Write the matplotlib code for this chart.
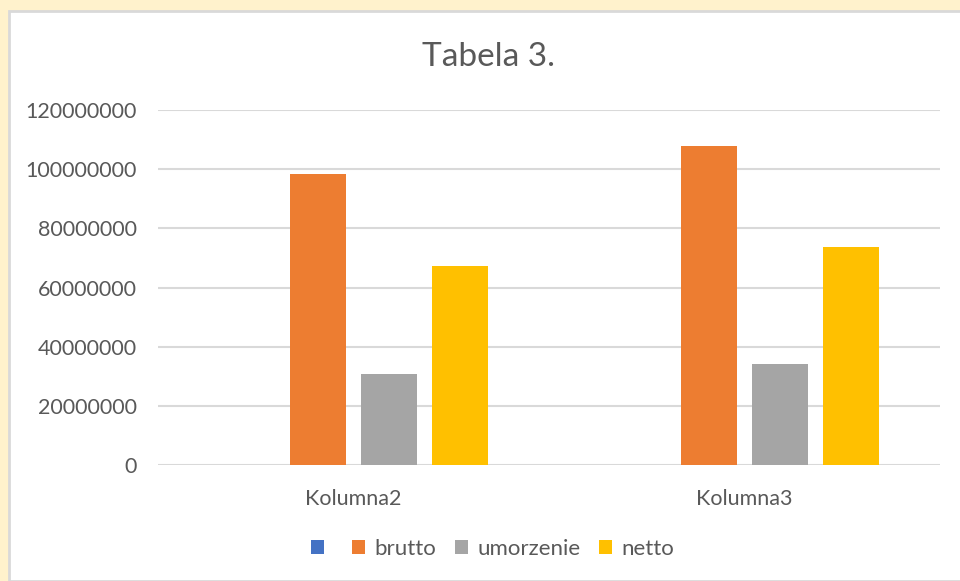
import matplotlib
matplotlib.use("Agg")
import matplotlib.pyplot as plt
from matplotlib.patches import Rectangle, Patch
import numpy as np

plt.rcParams['font.family'] = ['Lato', 'DejaVu Sans']

kategorie = ["Kolumna2", "Kolumna3"]
serie = ["", "brutto", "umorzenie", "netto"]
wartosci = [
    [0, 0],
    [98300000, 107900000],
    [30700000, 34100000],
    [67400000, 73600000],
]
kolory = ["#4472C4", "#ED7D31", "#A5A5A5", "#FFC000"]
yticks = [0, 20000000, 40000000, 60000000, 80000000, 100000000, 120000000]

szary = "#595959"

fig = plt.figure(figsize=(9.6, 5.81), dpi=100)
fig.patch.set_facecolor("#FFF2CC")

# biale tlo wykresu z ramka
W, H = 960, 581
fig.patches.append(Rectangle((9 / W, 0), 1.0, 1 - 11 / H, transform=fig.transFigure,
                             facecolor="white", edgecolor="#D9D9D9", linewidth=2, zorder=-5))

ax = fig.add_axes([158 / W, 1 - 465 / H, (940 - 158) / W, (465 - 110) / H])
ax.set_facecolor("none")
ax.set_zorder(2)

x = np.arange(len(kategorie))
krok = 0.1816
szer = 0.143
for i, (nazwa, vals, kol) in enumerate(zip(serie, wartosci, kolory)):
    ax.bar(x + (i - 1.5) * krok, vals, width=szer, color=kol, zorder=3)

ax.set_xlim(-0.5, 1.5)
ax.set_ylim(0, 120000000)
ax.set_yticks(yticks)
ax.set_yticklabels([str(v) for v in yticks])
ax.set_xticks(x)
ax.set_xticklabels(kategorie)
ax.grid(axis="y", color="#D9D9D9", linewidth=1.5, zorder=0)
ax.tick_params(length=0, colors=szary, labelsize=15.5)
ax.tick_params(axis="y", pad=15)
ax.tick_params(axis="x", pad=17)
for s in ax.spines.values():
    s.set_visible(False)

fig.text(0.509, 1 - 57 / H, "Tabela 3.", ha="center", va="center", fontsize=24, color=szary)

uchwyty = [Patch(facecolor=k, edgecolor="none") for k in kolory]
fig.legend(uchwyty, serie, loc="center", bbox_to_anchor=(0.513, 1 - 549 / H), ncol=4,
           frameon=False, fontsize=16, labelcolor=szary, handlelength=0.6, handleheight=0.6,
           handletextpad=0.4, columnspacing=0.85)

fig.savefig("out.png", dpi=100, facecolor=fig.get_facecolor())
